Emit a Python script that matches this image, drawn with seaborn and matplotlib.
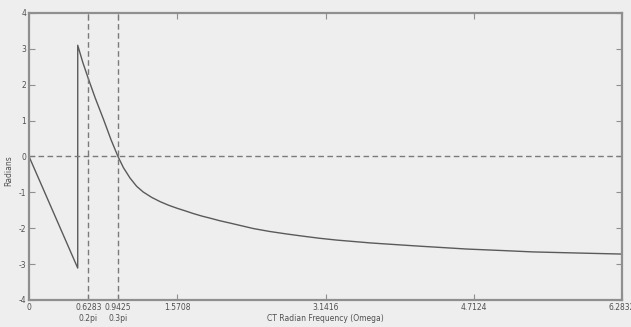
import matplotlib
matplotlib.use("Agg")
import matplotlib.pyplot as plt
import matplotlib.transforms as mtransforms
import seaborn as sns
import pandas as pd

# Phase response samples (radians) against CT radian frequency
omega = [0, 0.516, 0.516, 0.57, 0.6283, 0.70, 0.787, 0.87, 0.9425, 1.0, 1.07,
         1.14, 1.21, 1.30, 1.39, 1.48, 1.5708, 1.66, 1.74, 1.83, 1.92, 2.02,
         2.12, 2.25, 2.38, 2.55, 2.73, 2.90, 3.08, 3.26, 3.44, 3.62, 3.79,
         4.14, 4.64, 5.00, 5.34, 5.80, 6.2832]
phase = [0, -3.11, 3.10, 2.62, 2.17, 1.64, 1.05, 0.46, 0.0, -0.31, -0.60,
         -0.83, -0.99, -1.14, -1.26, -1.36, -1.445, -1.52, -1.59, -1.66, -1.72,
         -1.79, -1.85, -1.93, -2.01, -2.09, -2.16, -2.22, -2.28, -2.33, -2.37,
         -2.41, -2.44, -2.50, -2.58, -2.62, -2.66, -2.69, -2.72]

xticks = [0, 0.6283, 0.9425, 1.5708, 3.1416, 4.7124, 6.2832]
xticklabels = ["0", "0.6283", "0.9425", "1.5708", "3.1416", "4.7124", "6.2832"]
marker_freqs = [0.6283, 0.9425]
marker_labels = ["0.2pi", "0.3pi"]
yticks = [-4, -3, -2, -1, 0, 1, 2, 3, 4]

bg = "#eeeeee"
edge = "#8f8f8f"
txt = "#505050"

sns.set_style("white", {"axes.facecolor": bg, "figure.facecolor": bg,
                        "axes.edgecolor": edge})
plt.rcParams["font.family"] = ["DejaVu Sans"]

fig = plt.figure(figsize=(6.31, 3.27), dpi=100)
ax = fig.add_axes([0.046, 0.0826, 0.9397, 0.8777])

df = pd.DataFrame({"omega": omega, "phase": phase})
sns.lineplot(data=df, x="omega", y="phase", sort=False, estimator=None,
             color="#5a5a5a", linewidth=1.0, ax=ax)

for f in marker_freqs:
    ax.axvline(f, color="#7a7a7a", linestyle=(0, (4, 2.5)), linewidth=1.0)
ax.axhline(0, color="#7a7a7a", linestyle=(0, (4, 2.5)), linewidth=1.0)

ax.set_xlim(0, 6.2832)
ax.set_ylim(-4, 4)
ax.set_xticks(xticks)
ax.set_xticklabels(xticklabels)
ax.set_yticks(yticks)
ax.set_yticklabels([str(t) for t in yticks])

ax.tick_params(direction="in", length=4, width=0.8, color=edge,
               labelsize=5.5, labelcolor=txt, top=True, right=True,
               bottom=True, left=True, pad=2)

for s in ax.spines.values():
    s.set_linewidth(1.6)
    s.set_color(edge)

trans = mtransforms.blended_transform_factory(ax.transData, ax.transAxes)
for f, lab in zip(marker_freqs, marker_labels):
    ax.text(f, -0.065, lab, transform=trans, ha="center", va="center",
            fontsize=5.5, color=txt)

ax.set_xlabel("CT Radian Frequency (Omega)", fontsize=5.5, color=txt)
ax.xaxis.set_label_coords(0.5, -0.065)
ax.xaxis.label.set_va("center")
ax.set_ylabel("Radians", fontsize=5.5, color=txt)
ax.yaxis.set_label_coords(-0.027, 0.45)

fig.savefig("out.png", dpi=100, facecolor=bg)
